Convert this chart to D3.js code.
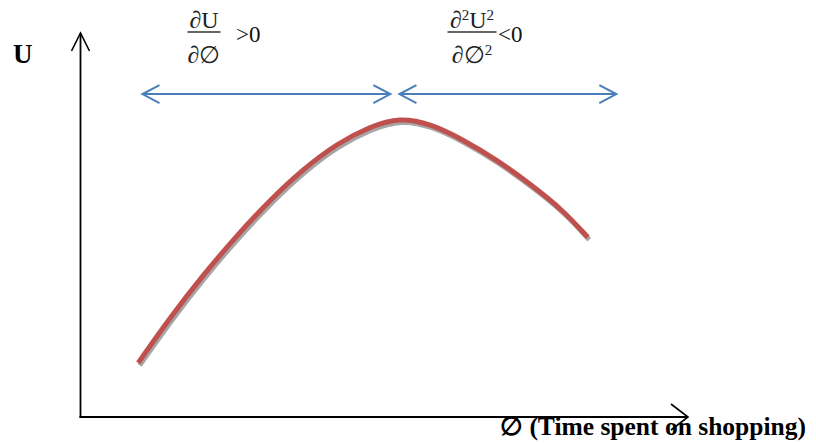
<!DOCTYPE html>
<html>
<head>
<meta charset="utf-8">
<script src="https://cdn.jsdelivr.net/npm/d3@7"></script>
<style>
  html, body { margin: 0; padding: 0; background: #fff; }
  svg { display: block; }
</style>
</head>
<body>
<svg id="chart" width="816" height="443"></svg>
<script>
// ---- data (conceptual units: time spent on shopping vs utility) ----
const timeValues    = [0.95, 1.47, 2.02, 2.58, 3.12, 3.66, 4.22, 4.77, 5.26, 5.75, 6.29, 6.86, 7.40, 7.94, 8.35];
const utilityValues = [1.41, 2.58, 3.70, 4.74, 5.65, 6.45, 7.12, 7.57, 7.80, 7.64, 7.23, 6.69, 6.07, 5.39, 4.68];
const regionStarts  = [1.02, 5.25];
const regionEnds    = [5.10, 8.82];
const regionLevel   = 8.41;
const axisLabels    = ["U", "\u2205 (Time spent on shopping)"];

const svg = d3.select("#chart");

const x = d3.scaleLinear().domain([0, 10]).range([80.5, 688]);
const y = d3.scaleLinear().domain([0, 10]).range([417, 33]);

const serif = "'Liberation Serif', 'Times New Roman', serif";

// ---- axes ----
const axisColor = "#000";
svg.append("line")
  .attr("x1", x(0)).attr("y1", y(0) + 1)
  .attr("x2", x(0)).attr("y2", y(10))
  .attr("stroke", axisColor).attr("stroke-width", 1.8);
svg.append("line")
  .attr("x1", x(0) - 1).attr("y1", y(0))
  .attr("x2", x(10)).attr("y2", y(0))
  .attr("stroke", axisColor).attr("stroke-width", 1.8);
svg.append("path")
  .attr("d", `M${x(0) - 9},${y(10) + 18} L${x(0)},${y(10)} L${x(0) + 9},${y(10) + 18}`)
  .attr("fill", "none").attr("stroke", axisColor).attr("stroke-width", 1.6);
svg.append("path")
  .attr("d", `M${x(10) - 17},${y(0) - 13} L${x(10)},${y(0)} L${x(10) - 17},${y(0) + 13}`)
  .attr("fill", "none").attr("stroke", axisColor).attr("stroke-width", 1.6);

// ---- curve ----
const pts = timeValues.map((t, i) => [t, utilityValues[i]]);
const line = d3.line()
  .x(d => x(d[0])).y(d => y(d[1]))
  .curve(d3.curveBasis);

svg.append("path")
  .attr("d", line(pts))
  .attr("transform", "translate(1.5,2.5)")
  .attr("fill", "none")
  .attr("stroke", "#a6a6a6")
  .attr("stroke-width", 5);
svg.append("path")
  .attr("d", line(pts))
  .attr("fill", "none")
  .attr("stroke", "#c0504d")
  .attr("stroke-width", 5);

// ---- region arrows ----
const blue = "#4a7ebb";
regionStarts.forEach((s, i) => {
  const x0 = x(s), x1 = x(regionEnds[i]), yy = y(regionLevel);
  const g = svg.append("g").attr("fill", "none").attr("stroke", blue).attr("stroke-width", 2);
  g.append("line").attr("x1", x0).attr("y1", yy).attr("x2", x1).attr("y2", yy);
  g.append("path").attr("d", `M${x0 + 17},${yy - 9} L${x0},${yy} L${x0 + 17},${yy + 9}`);
  g.append("path").attr("d", `M${x1 - 17},${yy - 9} L${x1},${yy} L${x1 - 17},${yy + 9}`);
});

// ---- axis labels ----
svg.append("text")
  .attr("x", 13).attr("y", 63)
  .attr("font-family", serif).attr("font-weight", "bold").attr("font-size", 27)
  .attr("fill", "#000")
  .text(axisLabels[0]);
svg.append("text")
  .attr("x", 500).attr("y", 435)
  .attr("font-family", serif).attr("font-weight", "bold").attr("font-size", 25.5)
  .attr("fill", "#000")
  .text(axisLabels[1]);

// ---- fractions ----
const fracColor = "#222";
function frac(cx, numParts, denParts, lineW, relText, relX, relY) {
  const g = svg.append("g").attr("font-family", serif).attr("fill", fracColor);
  const num = g.append("text").attr("x", cx).attr("y", 28).attr("font-size", 24).attr("text-anchor", "middle");
  numParts.forEach(p => {
    num.append("tspan").attr("font-size", p.sup ? 15 : 24).attr("dy", p.sup ? -8 : (p.after ? 8 : 0)).text(p.t);
  });
  g.append("line")
    .attr("x1", cx - lineW / 2).attr("x2", cx + lineW / 2)
    .attr("y1", 32).attr("y2", 32)
    .attr("stroke", "#333").attr("stroke-width", 1.6);
  const den = g.append("text").attr("x", cx).attr("y", 63).attr("font-size", 24).attr("text-anchor", "middle");
  denParts.forEach(p => {
    den.append("tspan").attr("font-size", p.sup ? 15 : 24).attr("dy", p.sup ? -8 : (p.after ? 8 : 0)).text(p.t);
  });
  g.append("text").attr("x", relX).attr("y", relY).attr("font-size", 23).attr("fill", "#111").text(relText);
}
frac(204, [{t: "\u2202U"}], [{t: "\u2202\u2205"}], 33, ">0", 236, 42);
frac(472, [{t: "\u2202"}, {t: "2", sup: true}, {t: "U", after: true}, {t: "2", sup: true}],
          [{t: "\u2202\u2205"}, {t: "2", sup: true}], 49, "<0", 498, 42);
</script>
</body>
</html>
